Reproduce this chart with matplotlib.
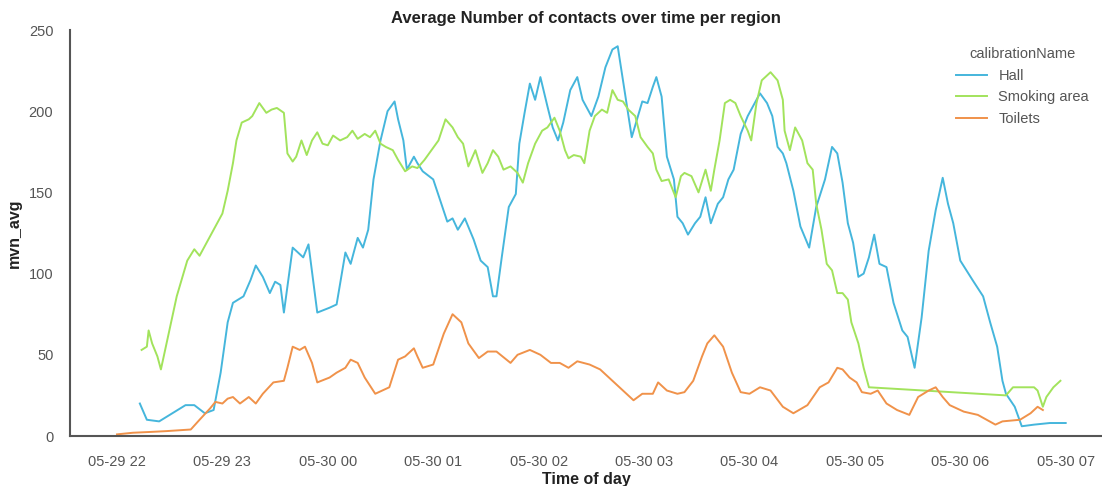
import matplotlib
matplotlib.use("Agg")
import matplotlib.pyplot as plt
import matplotlib.dates as mdates
import pandas as pd

# ---------------- data ----------------
hall_times = ["22:13", "22:17", "22:24", "22:33", "22:39", "22:44", "22:50", "22:55", "22:59", "23:03",
              "23:06", "23:12", "23:16", "23:19", "23:23", "23:27", "23:30", "23:33", "23:35", "23:40",
              "23:46", "23:49", "23:54", "00:01", "00:05", "00:10", "00:13", "00:17", "00:20", "00:23",
              "00:26", "00:30", "00:34", "00:38", "00:40", "00:43", "00:45", "00:49", "00:51", "00:54",
              "01:00", "01:04", "01:08", "01:11", "01:14", "01:18", "01:23", "01:27", "01:31", "01:34",
              "01:36", "01:39", "01:43", "01:47", "01:49", "01:52", "01:55", "01:58", "02:01", "02:05",
              "02:08", "02:11", "02:14", "02:18", "02:22", "02:25", "02:30", "02:34", "02:38", "02:42",
              "02:45", "02:48", "02:53", "02:56", "02:59", "03:02", "03:05", "03:07", "03:10", "03:13",
              "03:17", "03:19", "03:22", "03:25", "03:29", "03:32", "03:35", "03:38", "03:42", "03:45",
              "03:48", "03:51", "03:55", "03:59", "04:02", "04:06", "04:10", "04:13", "04:16", "04:19",
              "04:21", "04:25", "04:29", "04:34", "04:38", "04:43", "04:47", "04:50", "04:53", "04:56",
              "04:59", "05:02", "05:05", "05:08", "05:11", "05:14", "05:18", "05:22", "05:27", "05:30",
              "05:34", "05:38", "05:42", "05:46", "05:50", "05:53", "05:56", "06:00", "06:07", "06:13",
              "06:17", "06:21", "06:24", "06:26", "06:31", "06:35", "06:42", "06:51", "07:00"]
hall_values = [20, 10, 9, 15, 19, 19, 14, 16, 39, 70,
               82, 86, 96, 105, 98, 88, 95, 93, 76, 116,
               110, 118, 76, 79, 81, 113, 106, 122, 116, 127,
               158, 182, 200, 206, 195, 182, 164, 172, 168, 163,
               158, 145, 132, 134, 127, 134, 121, 108, 104, 86,
               86, 110, 141, 149, 180, 199, 217, 207, 221, 203,
               190, 182, 193, 213, 221, 207, 197, 209, 227, 238,
               240, 219, 184, 195, 206, 205, 215, 221, 209, 172,
               158, 135, 131, 124, 131, 135, 147, 131, 143, 147,
               158, 164, 186, 197, 203, 211, 205, 197, 178, 174,
               168, 151, 129, 116, 141, 158, 178, 174, 156, 131,
               119, 98, 100, 110, 124, 106, 104, 82, 65, 61,
               42, 73, 114, 139, 159, 143, 131, 108, 96, 86,
               70, 55, 34, 26, 18, 6, 7, 8, 8]

smoking_times = ["22:14", "22:17", "22:18", "22:20", "22:23", "22:25", "22:29", "22:34", "22:40", "22:44",
                 "22:47", "22:51", "22:55", "23:00", "23:03", "23:06", "23:08", "23:11", "23:15", "23:17",
                 "23:21", "23:25", "23:28", "23:31", "23:35", "23:37", "23:40", "23:42", "23:45", "23:48",
                 "23:51", "23:54", "23:57", "00:00", "00:03", "00:07", "00:11", "00:14", "00:17", "00:21",
                 "00:24", "00:27", "00:30", "00:33", "00:37", "00:40", "00:44", "00:48", "00:51", "00:55",
                 "00:59", "01:03", "01:07", "01:11", "01:14", "01:17", "01:20", "01:24", "01:28", "01:31",
                 "01:34", "01:37", "01:40", "01:44", "01:48", "01:51", "01:54", "01:58", "02:02", "02:05",
                 "02:09", "02:12", "02:15", "02:17", "02:20", "02:24", "02:26", "02:29", "02:32", "02:36",
                 "02:39", "02:42", "02:45", "02:48", "02:51", "02:55", "02:58", "03:02", "03:05", "03:07",
                 "03:10", "03:14", "03:18", "03:21", "03:23", "03:27", "03:31", "03:35", "03:38", "03:40",
                 "03:43", "03:46", "03:49", "03:52", "03:55", "03:59", "04:01", "04:04", "04:07", "04:12",
                 "04:16", "04:19", "04:20", "04:23", "04:26", "04:30", "04:33", "04:36", "04:38", "04:41",
                 "04:44", "04:47", "04:50", "04:53", "04:56", "04:58", "05:02", "05:05", "05:08", "06:26",
                 "06:30", "06:42", "06:44", "06:47", "06:49", "06:53", "06:57"]
smoking_values = [53, 55, 65, 57, 49, 41, 61, 86, 108, 115,
                  111, 119, 127, 137, 151, 168, 182, 193, 195, 197,
                  205, 199, 201, 202, 199, 174, 169, 172, 182, 173,
                  182, 187, 180, 179, 185, 182, 184, 188, 183, 186,
                  184, 188, 180, 178, 176, 170, 163, 166, 165, 170,
                  176, 182, 195, 190, 184, 180, 166, 176, 162, 168,
                  176, 172, 164, 166, 162, 156, 168, 180, 188, 190,
                  196, 188, 176, 171, 173, 172, 168, 188, 197, 201,
                  199, 213, 207, 206, 201, 197, 184, 178, 174, 164,
                  157, 158, 147, 160, 162, 160, 150, 164, 151, 164,
                  182, 205, 207, 205, 197, 188, 182, 205, 219, 224,
                  219, 207, 188, 176, 190, 182, 168, 164, 143, 127,
                  106, 102, 88, 88, 84, 70, 57, 42, 30, 25,
                  30, 30, 28, 18, 24, 30, 34]

toilets_times = ["22:00", "22:09", "22:19", "22:28", "22:42", "22:47", "22:53", "22:56", "23:00", "23:03",
                 "23:06", "23:10", "23:15", "23:19", "23:23", "23:29", "23:35", "23:37", "23:40", "23:44",
                 "23:47", "23:51", "23:54", "00:01", "00:05", "00:10", "00:13", "00:17", "00:21", "00:27",
                 "00:31", "00:35", "00:40", "00:44", "00:49", "00:51", "00:54", "01:00", "01:06", "01:11",
                 "01:16", "01:20", "01:26", "01:31", "01:36", "01:44", "01:48", "01:55", "02:01", "02:07",
                 "02:12", "02:17", "02:22", "02:29", "02:35", "02:42", "02:48", "02:54", "02:59", "03:05",
                 "03:08", "03:13", "03:19", "03:23", "03:28", "03:33", "03:36", "03:40", "03:45", "03:50",
                 "03:55", "04:00", "04:06", "04:12", "04:19", "04:25", "04:33", "04:40", "04:45", "04:50",
                 "04:53", "04:57", "05:01", "05:04", "05:09", "05:13", "05:18", "05:24", "05:31", "05:36",
                 "05:42", "05:46", "05:50", "05:54", "06:02", "06:10", "06:20", "06:24", "06:34", "06:40",
                 "06:44", "06:47"]
toilets_values = [1, 2, 2.5, 3, 4, 10, 17, 21, 20, 23,
                  24, 20, 24, 20, 26, 33, 34, 42, 55, 53,
                  55, 45, 33, 36, 39, 42, 47, 45, 36, 26,
                  28, 30, 47, 49, 54, 49, 42, 44, 63, 75,
                  70, 57, 48, 52, 52, 45, 50, 53, 50, 45,
                  45, 42, 46, 44, 41, 34, 28, 22, 26, 26,
                  33, 28, 26, 27, 34, 49, 57, 62, 55, 39,
                  27, 26, 30, 28, 18, 14, 19, 30, 33, 42,
                  41, 36, 33, 27, 26, 28, 20, 16, 13, 24,
                  28, 30, 24, 19, 15, 13, 7, 9, 10, 14,
                  18, 16]

series_names = ["Hall", "Smoking area", "Toilets"]
series_colors = ["#45b6dc", "#a2e35c", "#f0924a"]

title_text = "Average Number of contacts over time per region"
x_label = "Time of day"
y_label = "mvn_avg"
legend_title = "calibrationName"


def to_datetime(hhmm_list):
    out = []
    for s in hhmm_list:
        h = int(s.split(":")[0])
        day = "2021-05-29" if h >= 12 else "2021-05-30"
        out.append(pd.Timestamp(f"{day} {s}"))
    return out


series = [
    (to_datetime(hall_times), hall_values),
    (to_datetime(smoking_times), smoking_values),
    (to_datetime(toilets_times), toilets_values),
]

plt.rcParams["font.family"] = ["Liberation Sans", "DejaVu Sans"]

fig = plt.figure(figsize=(11.02, 4.86), dpi=100)
ax = fig.add_axes([70 / 1102, 1 - 436 / 486, 1 - 70 / 1102, (436 - 30) / 486])

for (t, v), name, col in zip(series, series_names, series_colors):
    ax.plot(t, v, color=col, lw=1.4, label=name)

ax.set_ylim(0, 250)
ax.set_xlim(pd.Timestamp("2021-05-29 21:33:15"), pd.Timestamp("2021-05-30 07:20:40"))
ax.set_yticks([0, 50, 100, 150, 200, 250])
ax.xaxis.set_major_locator(mdates.HourLocator())
ax.xaxis.set_major_formatter(mdates.DateFormatter("%m-%d %H"))

for side in ["top", "right"]:
    ax.spines[side].set_visible(False)
for side in ["left", "bottom"]:
    ax.spines[side].set_color("#555555")
    ax.spines[side].set_linewidth(1.5)

ax.tick_params(axis="both", length=0, labelsize=10.5, labelcolor="#555555")
ax.tick_params(axis="x", pad=14)
ax.tick_params(axis="y", pad=12)

ax.set_title(title_text, fontsize=12, fontweight="bold", color="#222222", pad=5)
ax.set_xlabel(x_label, fontsize=11.5, fontweight="bold", color="#222222", labelpad=2)
ax.set_ylabel(y_label, fontsize=11.5, fontweight="bold", color="#222222", labelpad=5)

leg = ax.legend(title=legend_title, loc="upper left", bbox_to_anchor=(0.846, 0.99),
                frameon=False, fontsize=10.5, title_fontsize=10.5,
                handlelength=2.1, labelspacing=0.52, handletextpad=0.8)
for txt in leg.get_texts():
    txt.set_color("#555555")
leg.get_title().set_color("#555555")

fig.savefig("out.png", dpi=100)
